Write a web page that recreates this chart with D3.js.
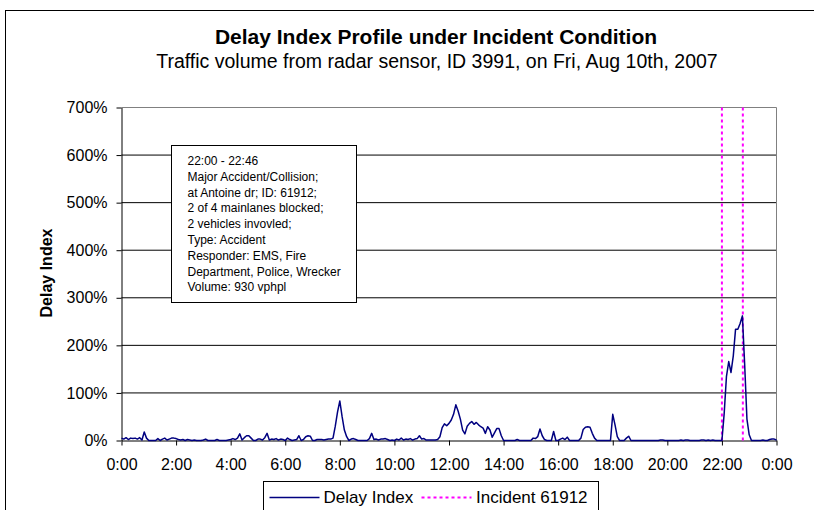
<!DOCTYPE html>
<html>
<head>
<meta charset="utf-8">
<script src="https://cdn.jsdelivr.net/npm/d3@7"></script>
<style>
  html, body { margin: 0; padding: 0; background: #fff; }
  svg { display: block; font-family: "Liberation Sans", Arial, sans-serif; }
</style>
</head>
<body>
<svg id="chart" width="814" height="510"></svg>
<script>
// Delay index (%) sampled every 5 minutes, 0:00 through 24:00
const stepMinutes = 5;
const delayIndexPct = [
  5, 3, 6, 2, 5, 4, 5, 3, 6, 1, 18, 5, 0,
  0, 0, 0, 4, 0, 3, 5, 1, 3, 5, 5, 4,
  2, 1, 2, 0, 2, 1, 0, 1, 0, 0, 0, 1,
  3, 0, 0, 0, 0, 2, 0, 0, 0, 0, 1, 2,
  4, 2, 5, 14, 1, 6, 10, 10, 5, 0, 0, 3,
  3, 1, 6, 15, 1, 3, 2, 4, 1, 3, 2, 0,
  5, 2, 0, 1, 2, 10, 0, 2, 8, 10, 9, 0,
  0, 2, 2, 2, 1, 2, 3, 3, 5, 30, 60, 83,
  50, 22, 8, 0, 3, 4, 2, 0, 0, 0, 0, 0,
  4, 15, 2, 3, 1, 3, 3, 4, 2, 0, 1, 0,
  3, 1, 5, 1, 3, 2, 4, 1, 3, 4, 10, 3,
  4, 1, 1, 1, 1, 1, 2, 8, 27, 35, 31, 36,
  43, 55, 75, 62, 45, 22, 14, 30, 36, 40, 34, 38,
  33, 29, 26, 15, 29, 22, 7, 16, 25, 25, 10, 0,
  0, 0, 0, 0, 0, 2, 0, 0, 0, 0, 0, 0,
  5, 4, 8, 24, 10, 2, 0, 0, 0, 19, 0, 0,
  3, 5, 2, 7, 0, 0, 0, 0, 0, 5, 23, 28,
  29, 28, 15, 5, 0, 0, 0, 0, 0, 0, 0, 55,
  33, 8, 0, 0, 0, 5, 9, 0, 0, 0, 0, 0,
  0, 0, 0, 0, 0, 0, 0, 0, 1, 1, 0, 0,
  0, 0, 0, 0, 0, 1, 0, 1, 1, 0, 0, 0,
  0, 0, 1, 1, 0, 1, 0, 1, 0, 0, 0, 0,
  57, 135, 166, 143, 178, 234, 234, 246, 262, 160, 45, 12,
  0, 0, 0, 0, 0, 1, 0, 0, 2, 3, 3, 1
];

// Incident window (minutes after midnight)
const incidentMinutes = [22 * 60, 22 * 60 + 46];

// Axis ticks
const xTickMinutes = d3.range(0, 24 * 60 + 1, 120);
const xTickLabels = ["0:00", "2:00", "4:00", "6:00", "8:00", "10:00", "12:00",
                     "14:00", "16:00", "18:00", "20:00", "22:00", "0:00"];
const yTickValues = [0, 1, 2, 3, 4, 5, 6, 7];

const titleText = "Delay Index Profile under Incident Condition";
const subtitleText = "Traffic volume from radar sensor, ID 3991, on Fri, Aug 10th, 2007";
const yAxisTitle = "Delay Index";
const legendLabels = ["Delay Index", "Incident 61912"];
const noteLines = [
  "22:00 - 22:46",
  "Major Accident/Collision;",
  "at Antoine dr; ID: 61912;",
  "2 of 4 mainlanes blocked;",
  "2 vehicles invovled;",
  "Type: Accident",
  "Responder: EMS, Fire",
  "Department, Police, Wrecker",
  "Volume: 930 vphpl"
];

const lineColor = "#000080";
const incidentColor = "#FF00FF";

const svg = d3.select("#chart");

// Outer chart frame
svg.append("rect")
  .attr("x", 5.5).attr("y", 10.5)
  .attr("width", 900).attr("height", 700)
  .attr("fill", "#fff").attr("stroke", "#000").attr("stroke-width", 1);

const plot = { left: 121.5, right: 776.5, top: 107.5, bottom: 440.5 };

const x = d3.scaleLinear().domain([0, 24 * 60]).range([plot.left, plot.right]);
const y = d3.scaleLinear().domain([0, 7]).range([plot.bottom, plot.top]);

// Titles
svg.append("text")
  .attr("x", 436).attr("y", 44)
  .attr("text-anchor", "middle")
  .attr("font-size", 21).attr("font-weight", "bold")
  .text(titleText);
svg.append("text")
  .attr("x", 437).attr("y", 68)
  .attr("text-anchor", "middle")
  .attr("font-size", 19.5)
  .text(subtitleText);

// Horizontal gridlines
svg.append("g")
  .selectAll("line")
  .data(yTickValues.filter(v => v > 0 && v < 7))
  .join("line")
  .attr("x1", plot.left).attr("x2", plot.right)
  .attr("y1", d => y(d)).attr("y2", d => y(d))
  .attr("stroke", "#000").attr("stroke-width", 1);

// Plot area frame: top and right edges in grey
svg.append("path")
  .attr("d", `M${plot.left},${plot.top}H${plot.right}V${plot.bottom}`)
  .attr("fill", "none").attr("stroke", "#808080").attr("stroke-width", 1);

// Y axis
const yAxis = d3.axisLeft(y)
  .tickValues(yTickValues)
  .tickFormat(d => d3.format(".0%")(d))
  .tickSize(5).tickSizeOuter(0).tickPadding(9);
const yAxisG = svg.append("g")
  .attr("transform", `translate(${plot.left},0)`)
  .call(yAxis);
yAxisG.selectAll("text").attr("font-size", 16).attr("fill", "#000")
  .attr("font-family", "Liberation Sans, Arial, sans-serif");
yAxisG.selectAll("line, path").attr("stroke", "#000");

// X axis
const xAxis = d3.axisBottom(x)
  .tickValues(xTickMinutes)
  .tickFormat((d, i) => xTickLabels[i])
  .tickSize(5).tickSizeOuter(0).tickPadding(13);
const xAxisG = svg.append("g")
  .attr("transform", `translate(0,${plot.bottom})`)
  .call(xAxis);
xAxisG.selectAll("text").attr("font-size", 16).attr("fill", "#000")
  .attr("font-family", "Liberation Sans, Arial, sans-serif");
xAxisG.selectAll("line, path").attr("stroke", "#000");

// Y axis title
svg.append("text")
  .attr("transform", "translate(52,273) rotate(-90)")
  .attr("text-anchor", "middle")
  .attr("font-size", 16).attr("font-weight", "bold")
  .text(yAxisTitle);

// Incident start/end markers
svg.append("g")
  .selectAll("line")
  .data(incidentMinutes)
  .join("line")
  .attr("x1", d => x(d)).attr("x2", d => x(d))
  .attr("y1", y(7)).attr("y2", y(0))
  .attr("stroke", incidentColor).attr("stroke-width", 2)
  .attr("stroke-dasharray", "3,3");

// Delay index line
const series = delayIndexPct.map((v, i) => ({ t: i * stepMinutes, v: v / 100 }));
svg.append("path")
  .datum(series)
  .attr("fill", "none")
  .attr("stroke", lineColor).attr("stroke-width", 1.5)
  .attr("stroke-linejoin", "round")
  .attr("d", d3.line().x(d => x(d.t)).y(d => y(d.v)));

// Incident note box
const note = svg.append("g").attr("transform", "translate(171.5,145.5)");
note.append("rect")
  .attr("width", 185).attr("height", 157)
  .attr("fill", "#fff").attr("stroke", "#000").attr("stroke-width", 1);
note.append("g")
  .selectAll("text")
  .data(noteLines)
  .join("text")
  .attr("x", 16).attr("y", (d, i) => 19.5 + i * 15.8)
  .attr("font-size", 12)
  .text(d => d);

// Legend
const legend = svg.append("g").attr("transform", "translate(263.5,481.5)");
legend.append("rect")
  .attr("width", 335).attr("height", 60)
  .attr("fill", "#fff").attr("stroke", "#000").attr("stroke-width", 1);
legend.append("line")
  .attr("x1", 6).attr("x2", 56).attr("y1", 16).attr("y2", 16)
  .attr("stroke", lineColor).attr("stroke-width", 1.5);
legend.append("text")
  .attr("x", 60).attr("y", 21.5).attr("font-size", 17)
  .text(legendLabels[0]);
legend.append("line")
  .attr("x1", 158).attr("x2", 208).attr("y1", 16).attr("y2", 16)
  .attr("stroke", incidentColor).attr("stroke-width", 2)
  .attr("stroke-dasharray", "3,3");
legend.append("text")
  .attr("x", 212.5).attr("y", 21.5).attr("font-size", 17)
  .text(legendLabels[1]);
</script>
</body>
</html>
